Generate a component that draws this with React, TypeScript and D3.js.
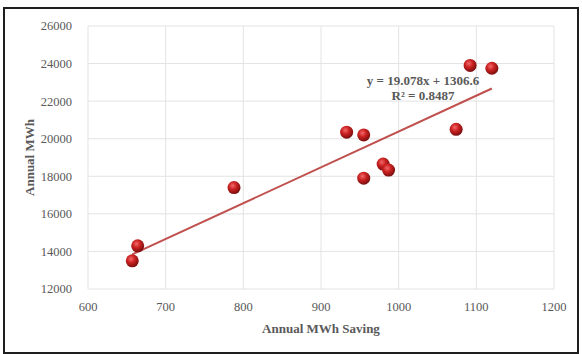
import React from 'react';
import * as d3 from 'd3';

// annual MWh saving vs annual MWh
const savings = [657, 664, 788, 933, 955, 955, 980, 987, 1074, 1092, 1120];
const annual = [13500, 14300, 17400, 20350, 20200, 17900, 18650, 18330, 20500, 23900, 23750];
const xTicks = [600, 700, 800, 900, 1000, 1100, 1200];
const yTicks = [12000, 14000, 16000, 18000, 20000, 22000, 24000, 26000];
const slope = 19.078;
const intercept = 1306.6;
const eqLines = ['y = 19.078x + 1306.6', 'R² = 0.8487'];

const W = 582, H = 354;
const font = '"Liberation Serif", "Times New Roman", serif';
const grey = '#595959';

export default function App() {
  const x = d3.scaleLinear().domain([600, 1200]).range([88, 554]);
  const y = d3.scaleLinear().domain([12000, 26000]).range([289, 26]);

  const [x0, x1] = d3.extent(savings) as [number, number];
  const trend = d3.line<number>()
    .x(d => x(d))
    .y(d => y(slope * d + intercept))([x0, x1]);

  return (
    <svg width={W} height={H} style={{ position: 'absolute', left: 0, top: 0 }}
      fontFamily={font}>
      <defs>
        <radialGradient id="ball" cx="0.4" cy="0.35" r="0.65">
          <stop offset="0" stopColor="#f26a6a" />
          <stop offset="0.45" stopColor="#cc2222" />
          <stop offset="1" stopColor="#7a0e0e" />
        </radialGradient>
      </defs>
      <rect x={0} y={0} width={W} height={H} fill="#fff" />
      <rect x={4} y={8} width={574} height={345} fill="#fff" stroke="#1e1e1e" strokeWidth={2} />

      {xTicks.map(t => (
        <line key={'gx' + t} x1={x(t)} x2={x(t)} y1={y(12000)} y2={y(26000)}
          stroke="#e3e3e3" strokeWidth={1} />
      ))}
      {yTicks.map(t => (
        <line key={'gy' + t} x1={x(600)} x2={x(1200)} y1={y(t)} y2={y(t)}
          stroke="#e3e3e3" strokeWidth={1} />
      ))}

      {yTicks.map(t => (
        <text key={'ty' + t} x={72} y={y(t)} dy="0.35em" textAnchor="end"
          fontSize={12.5} fill={grey}>{t}</text>
      ))}
      {xTicks.map(t => (
        <text key={'tx' + t} x={x(t)} y={311} textAnchor="middle"
          fontSize={12.5} fill={grey}>{t}</text>
      ))}

      <text x={(x(600) + x(1200)) / 2} y={333} textAnchor="middle" fontSize={13}
        fontWeight="bold" fill={grey}>Annual MWh Saving</text>
      <text transform={`translate(34,${(y(12000) + y(26000)) / 2}) rotate(-90)`}
        textAnchor="middle" fontSize={13} fontWeight="bold" fill={grey}>Annual MWh</text>

      <path d={trend || ''} fill="none" stroke="#c0504d" strokeWidth={2} />

      {savings.map((s, i) => (
        <circle key={'p' + i} cx={x(s)} cy={y(annual[i])} r={6.5} fill="url(#ball)" />
      ))}

      {eqLines.map((t, i) => (
        <text key={'eq' + i} x={423} y={85 + i * 15} textAnchor="middle" fontSize={13}
          fontWeight="bold" fill={grey}>{t}</text>
      ))}
    </svg>
  );
}
